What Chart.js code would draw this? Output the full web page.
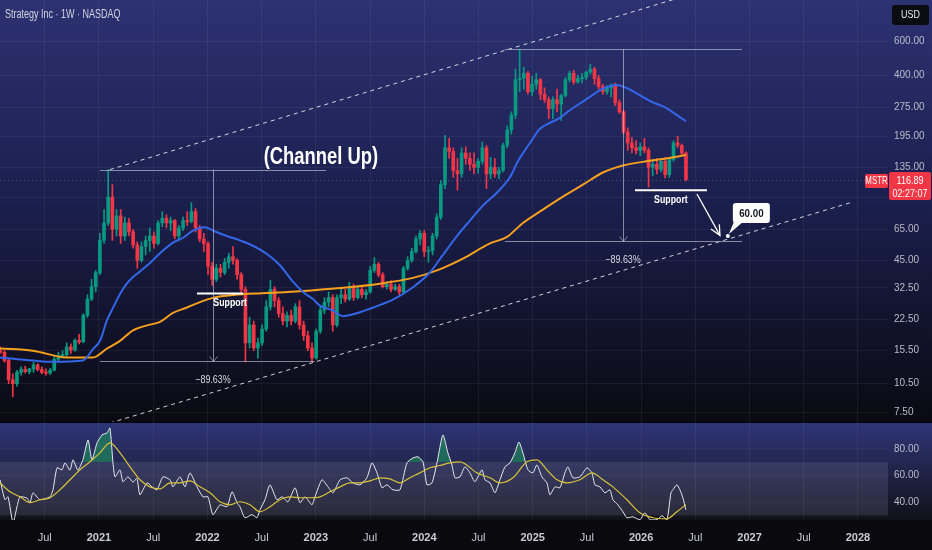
<!DOCTYPE html>
<html><head><meta charset="utf-8">
<script src="https://cdn.jsdelivr.net/npm/chart.js@4.4.1/dist/chart.umd.min.js"></script>
<style>
html,body{margin:0;padding:0;background:#0a0a0e;overflow:hidden;}
canvas{display:block;}
</style></head><body>
<canvas id="c" width="932" height="550"></canvas>
<script>
// ---------------- DATA ----------------
const chartTitle = 'Strategy Inc · 1W · NASDAQ';
const symbol = 'MSTR';
const currency = 'USD';
const lastPrice = 116.89;
const countdown = '02:27:07';
const firstCandleDate = '2020-02-03';
const candleStepDays = 14;

const opens = [15.5,15.2,13.8,11.0,10.5,12.0,12.4,12.1,12.5,13.1,
12.4,12.0,11.9,12.3,14.0,14.6,14.8,16.2,15.6,17.5,
17.2,23.5,28.5,33.0,38.9,57.0,70.0,95.0,65.0,76.0,
60,70,63,54,45,53,57,60,55,70,
74,70,72,60,66,72,71,80,66,58,
55,42,36,41,39,44,47,45,38,32,
17,21,16,17,20,26,32,28,24,22,
23.5,22,26,21,18.5,16,14.2,19.5,25,27.5,
29,21,29,30,28.5,33,29,32,30,31,
40,43,38,33,34,32,33,31,41,45,
50,58,62,50,50.5,60,75,110,170,163,
130,125,160,150,140,135,145,170,125,135,
125,130,175,210,250,380,387,410,330,360,
380,320,300,270,300,285,315,380,410,370,
385,390,415,430,385,350,330,345,355,290,
260,205,180,170,165,172,165,135,140,132,
145,124,148,180,175,160];
const highs = [16.2,15.5,14.0,11.8,12.3,12.8,12.9,12.6,13.5,13.3,
12.8,12.5,12.6,14.5,15.2,15.5,17.0,16.8,17.8,18.8,
24.0,30.0,36.0,40.0,62.0,82.0,131.5,110,82,82,
75,74,65,56,56,60,66,63,72,80,
77,75,73,68,75,80,89,83,68,62,
56,44,43,43,46,49,53,46,39,33,
23,22,18,21,28,35.5,33,29,26,24.5,
25,27,28,22,19.5,17,20,26,29,31,
30,30,32,32,34.7,34,33,33,32,42,
46.6,44,39,35,35.5,34,34,42,47,52,
60,64,64,53,62,78,115,197,190,170,
150,170,172,160,160,150,182,175,152,150,
135,180,220,260,430,543,440,420,395,410,
385,345,310,310,340,320,390,420,425,400,
410,420,455,440,400,360,355,362,365,300,
265,215,192,185,180,190,170,148,150,150,
152,150,185,195,178,162];
const lows = [15.0,13.5,10.5,9.0,10.2,11.6,11.9,11.8,12.0,12.2,
11.8,11.6,11.7,12.2,13.6,14.2,14.5,15.0,15.4,16.8,
17.0,23.0,28.0,31.0,38.0,55.0,68.0,57.0,60.0,55.0,
57,60,52,41,44,48,50,52,54,67,
66,64,58,57,64,68,70,63,56,50,
38,33.5,35,37,38,41,43,36,30,13.6,
16,15.5,14.2,16.5,19.5,25,26,23,21,20.5,
21,21.5,20,17.5,15.5,13.6,14,19,24,26,
19.5,20.5,27,27.5,28,28,28.5,29,28.5,30.5,
39,37,32.5,32,31,31.5,30,30.5,40,44,
49,54,47,44,48,58,73,105,150,120,
103,120,140,130,125,126,140,105,118,120,
118,128,170,200,240,330,340,320,315,340,
300,290,240,240,260,235,310,370,360,365,
365,380,405,360,340,320,320,310,280,255,
200,165,160,158,155,160,107,122,125,128,
119,120,145,170,155,115];
const closes = [15.2,13.8,11.0,10.5,12.0,12.4,12.1,12.5,13.1,12.4,
12.0,11.9,12.3,14.0,14.6,14.8,16.2,15.6,17.5,17.2,
23.5,28.5,33.0,38.9,57.0,70.0,95.0,65.0,76.0,60.0,
70,63,54,45,53,57,60,55,70,74,
70,72,60,66,72,71,80,66,58,55,
42,36,41,39,44,47,45,38,32,17,
21,16,17,20,26,32,28,24,22,23.5,
22,26,21,18.5,16,14.2,19.5,25,27.5,29,
21,29,30,28.5,33,29,32,30,31,40,
43,38,33,34,32,33,31,41,45,50,
58,62,50,50.5,60,75,110,170,163,130,
125,160,150,140,135,145,170,125,135,125,
130,175,210,250,380,387,410,330,360,380,
320,300,270,300,285,315,380,410,370,385,
390,415,430,385,350,330,345,355,290,260,
205,180,170,165,172,165,135,140,132,145,
124,148,180,175,160,116.89];

// 50-week MA (blue) (decimal year / price)
const ma50Years = [2020.087,2020.391,2020.576,2020.852,2020.945,2021.009,2021.074,2021.129,2021.194,2021.258,2021.314,2021.378,2021.470,2021.563,2021.682,2021.775,2021.867,2021.978,2022.051,2022.180,2022.300,2022.420,2022.549,2022.669,2022.789,2022.881,2022.973,2023.038,2023.158,2023.250,2023.342,2023.407,2023.545,2023.711,2023.896,2024.052,2024.172,2024.301,2024.421,2024.541,2024.670,2024.790,2024.864,2024.975,2025.067,2025.159,2025.251,2025.343,2025.436,2025.528,2025.620,2025.712,2025.777,2025.869,2025.989,2026.109,2026.238,2026.330,2026.413];
const ma50Values = [14.3,13.8,13.6,13.8,15.8,17.4,22.2,25.7,30.3,34.3,37,39.5,43.6,49,55.5,58.8,64,66.5,64,60,57,53.5,48.5,42.5,35,31,28.5,26.4,24.9,23.3,23.8,24.4,26,28.3,32.8,39,48,60,72,86,100,120,145,180,213,228,242,265,287,310,336,352,357,344,316,291,271,250,233];
// 200-week MA (orange)
const ma200Years = [2020.087,2020.391,2020.705,2020.945,2021.074,2021.194,2021.314,2021.443,2021.563,2021.682,2021.812,2021.931,2022.051,2022.236,2022.549,2022.854,2023.223,2023.591,2023.896,2024.117,2024.357,2024.606,2024.763,2024.910,2025.094,2025.279,2025.463,2025.648,2025.832,2026.016,2026.201,2026.413];
const ma200Values = [15.9,15.5,14.3,14.3,15.9,17.4,19.7,20.9,21.8,24.2,25.8,27.5,28.9,29.9,30.6,31.3,32.5,34.2,36.6,40,46,55,59.4,70,82,95.6,110,127,138,144,149,156];

// RSI (white) and its MA (yellow)
const rsiYears = [2020.087,2020.133,2020.161,2020.207,2020.244,2020.271,2020.336,2020.364,2020.391,2020.456,2020.548,2020.576,2020.613,2020.659,2020.686,2020.733,2020.760,2020.806,2020.852,2020.899,2020.935,2020.982,2021.028,2021.074,2021.101,2021.129,2021.148,2021.194,2021.221,2021.267,2021.314,2021.350,2021.378,2021.443,2021.489,2021.535,2021.590,2021.655,2021.682,2021.747,2021.793,2021.839,2021.904,2021.959,2022.005,2022.051,2022.116,2022.180,2022.227,2022.273,2022.300,2022.346,2022.411,2022.457,2022.485,2022.531,2022.577,2022.641,2022.688,2022.743,2022.808,2022.854,2022.900,2022.964,2022.992,2023.057,2023.112,2023.158,2023.223,2023.287,2023.342,2023.407,2023.471,2023.518,2023.564,2023.610,2023.656,2023.711,2023.776,2023.840,2023.896,2023.942,2023.988,2024.025,2024.071,2024.117,2024.172,2024.218,2024.255,2024.283,2024.329,2024.375,2024.421,2024.467,2024.532,2024.560,2024.606,2024.652,2024.698,2024.744,2024.790,2024.836,2024.873,2024.910,2024.956,2025.002,2025.039,2025.085,2025.131,2025.159,2025.205,2025.251,2025.297,2025.325,2025.371,2025.436,2025.500,2025.546,2025.574,2025.620,2025.666,2025.712,2025.740,2025.786,2025.832,2025.869,2025.924,2025.989,2026.035,2026.081,2026.146,2026.192,2026.238,2026.275,2026.293,2026.330,2026.358,2026.385,2026.413];
const rsiValues = [56.8,41.8,44,24.6,36.6,44,43,39.6,47,41.8,44,49.3,65.8,64.3,69.5,64,71.8,64,72,86.7,71.8,84.5,90.5,92,95.7,69.5,59,64.3,55.3,59,55,58,45.5,54.5,51.5,49.3,59,56.8,51.5,59,51.5,62,51.5,44,44,30.6,38,36.6,47.8,39.6,36.6,28.3,30.6,28.3,34.3,41.8,53,41.8,44,40.3,50.8,39.6,44,38,44,56.8,51.5,47,56.8,58.3,54.5,53,58.3,69.5,62,50.8,53,49.3,49.3,69.5,73.2,74,70.3,53,54.5,69.5,90.5,77,68,58.3,59,66.5,62,55.3,64.3,56.8,54.5,47,56.8,66.5,69.5,77,85.2,77,64.3,62,68,59,54.5,45.5,51.5,50.8,62,66.5,58.3,59,65.8,62,53,51.5,47,49.3,41.8,38,32.8,28.3,29,26.8,32,26.8,26.8,29.8,26.8,47,49.3,53,49.3,43.3,34.3];
const rsiMaYears = [2020.087,2020.179,2020.271,2020.364,2020.456,2020.548,2020.640,2020.733,2020.825,2020.917,2021.009,2021.101,2021.194,2021.286,2021.378,2021.470,2021.563,2021.655,2021.747,2021.839,2021.931,2022.024,2022.116,2022.208,2022.300,2022.392,2022.485,2022.577,2022.669,2022.761,2022.854,2022.946,2023.038,2023.130,2023.223,2023.315,2023.407,2023.499,2023.591,2023.684,2023.776,2023.868,2023.960,2024.052,2024.144,2024.236,2024.329,2024.486,2024.606,2024.698,2024.818,2024.947,2025.039,2025.131,2025.224,2025.316,2025.436,2025.546,2025.648,2025.740,2025.869,2025.989,2026.109,2026.238,2026.330,2026.413];
const rsiMaValues = [54.5,47.8,44,39.6,41.8,43.3,49.3,56.8,64.3,70.3,77,84.5,77,66.5,56.8,51.5,50,54.5,54.5,56,51.5,47,40.3,38,40.3,38,32.8,36.6,41.8,44,43.3,43.3,44,47.8,51.5,54.5,54.5,56,58.3,57.5,54.5,58.3,62,65.8,67.5,69.5,70.3,62,58.3,54.5,58.3,70.3,71.8,64.3,56.8,54.5,56.8,62,56.8,51.5,41.8,32,28.3,27.5,32.8,38];

const priceTicks = [600, 400, 275, 195, 135, 95, 65, 45, 32.5, 22.5, 15.5, 10.5, 7.5];
const rsiTicks = [80, 60, 40];
const rsiBand = [30, 70];
const timeTickYears = [2020.5,2021,2021.5,2022,2022.5,2023,2023.5,2024,2024.5,2025,2025.5,2026,2026.5,2027,2027.5,2028];
const timeTickLabels = ['Jul','2021','Jul','2022','Jul','2023','Jul','2024','Jul','2025','Jul','2026','Jul','2027','Jul','2028'];

// drawing annotations (data coordinates: decimal year, price)
const channelUpper = [[2021.101,131.5],[2026.60,1100]];
const channelLower = [[2021.10,6.6],[2027.954,89.7]];
const measureLeft = {from:2021.009, to:2023.094, lowTo:2022.99, mid:2022.051, high:131.5, low:13.64, label:'−89.63%'};
const measureRight = {from:2024.744, to:2026.93, lowTo:2026.93, mid:2025.833, high:543, low:56.3, label:'−89.63%'};
const supportLeft = {from:2021.904, to:2022.328, price:30.4, textAt:2022.21, label:'Support'};
const supportRight = {from:2025.943, to:2026.607, price:103, textAt:2026.275, label:'Support'};
const targetArrow = {from:[2026.515,98.6], to:[2026.727,60.5]};
const target = {year:2026.80, price:60, label:'60.00'};
const channelText = {year:2023.047, price:150.8, label:'(Channel Up)'};

// ---------------- CHART ----------------
const FONT = '"Liberation Sans", Arial, sans-serif';
const UP = '#089981', DOWN = '#f23645';
function toYear(ms){const d=new Date(ms);const y=d.getUTCFullYear();const s=Date.UTC(y,0,1),e=Date.UTC(y+1,0,1);return y+(ms-s)/(e-s);}
const t0 = Date.parse(firstCandleDate+'T00:00:00Z');
const candleYears = closes.map((_,i)=>toYear(t0+i*candleStepDays*86400000));
const candleColors = closes.map((c,i)=> c>=opens[i]?UP:DOWN);
const pts = (xs,ys)=>xs.map((x,i)=>({x:x,y:ys[i]}));

const PRICE_MIN = 6.677, PRICE_MAX = 973.6;

function narrowText(ctx,text,x,y,sx,align){
  ctx.save();ctx.translate(x,y);ctx.scale(sx,1);ctx.textAlign=align||'center';ctx.textBaseline='middle';ctx.fillText(text,0,0);ctx.restore();
}

const paneClip = {
  id:'paneClip',
  beforeDatasetDraw(chart,args){const ys=args.meta.yScale,ca=chart.chartArea,ctx=chart.ctx;ctx.save();ctx.beginPath();ctx.rect(ca.left,ys.top,ca.right-ca.left,ys.bottom-ys.top);ctx.clip();},
  afterDatasetDraw(chart){chart.ctx.restore();}
};

const background = {
  id:'background',
  beforeDraw(chart){
    const ctx=chart.ctx,W=chart.width,H=chart.height,y=chart.scales.y,r=chart.scales.rsi,ca=chart.chartArea;
    ctx.save();
    ctx.fillStyle='#0a0a0e';ctx.fillRect(0,0,W,H);
    let g=ctx.createLinearGradient(0,y.top,0,y.bottom);
    g.addColorStop(0,'#2c3272');g.addColorStop(0.45,'#1c2050');g.addColorStop(1,'#0a0a12');
    ctx.fillStyle=g;ctx.fillRect(0,y.top,W,y.bottom-y.top);
    g=ctx.createLinearGradient(0,r.top,0,r.bottom);
    g.addColorStop(0,'#2f3678');g.addColorStop(1,'#111119');
    ctx.fillStyle=g;ctx.fillRect(0,r.top,W,r.bottom-r.top);
    const b1=r.getPixelForValue(rsiBand[1]),b2=r.getPixelForValue(rsiBand[0]);
    ctx.fillStyle='rgba(160,160,195,0.17)';ctx.fillRect(ca.left,b1,ca.right-ca.left,b2-b1);
    ctx.fillStyle='#06060a';ctx.fillRect(0,y.bottom-0.5,W,1.5);
    ctx.restore();
  }
};

function arrowHead(ctx,x1,y1,x2,y2,len,ang){
  const a=Math.atan2(y2-y1,x2-x1);
  ctx.beginPath();
  ctx.moveTo(x2-len*Math.cos(a-ang),y2-len*Math.sin(a-ang));
  ctx.lineTo(x2,y2);
  ctx.lineTo(x2-len*Math.cos(a+ang),y2-len*Math.sin(a+ang));
  ctx.stroke();
}

const annotations = {
  id:'annotations',
  afterDatasetsDraw(chart){
    const ctx=chart.ctx,xs=chart.scales.x,ys=chart.scales.y,ca=chart.chartArea;
    const X=v=>xs.getPixelForValue(v),Y=v=>ys.getPixelForValue(v);
    ctx.save();
    ctx.beginPath();ctx.rect(ca.left,ys.top,ca.right-ca.left,ys.bottom-ys.top);ctx.clip();
    // current price dotted line
    ctx.strokeStyle='rgba(190,195,210,0.35)';ctx.lineWidth=1;ctx.setLineDash([1,3]);
    ctx.beginPath();ctx.moveTo(ca.left,Math.round(Y(lastPrice))+0.5);ctx.lineTo(ca.right,Math.round(Y(lastPrice))+0.5);ctx.stroke();
    ctx.setLineDash([]);
    // measurement boxes
    [measureLeft,measureRight].forEach(m=>{
      ctx.strokeStyle='rgba(205,210,225,0.6)';ctx.lineWidth=1;
      ctx.beginPath();
      ctx.moveTo(X(m.from),Math.round(Y(m.high))+0.5);ctx.lineTo(X(m.to),Math.round(Y(m.high))+0.5);
      ctx.moveTo(X(m.from),Math.round(Y(m.low))+0.5);ctx.lineTo(X(m.lowTo),Math.round(Y(m.low))+0.5);
      ctx.moveTo(Math.round(X(m.mid))+0.5,Y(m.high));ctx.lineTo(Math.round(X(m.mid))+0.5,Y(m.low));
      ctx.stroke();
      const mx=Math.round(X(m.mid))+0.5,my=Y(m.low);
      ctx.beginPath();ctx.moveTo(mx-4,my-5);ctx.lineTo(mx,my);ctx.lineTo(mx+4,my-5);ctx.stroke();
      ctx.fillStyle='#d6d9e2';ctx.font='10.5px '+FONT;
      narrowText(ctx,m.label,X(m.mid),Y(m.low)+19,0.85);
    });
    // support lines
    [supportLeft,supportRight].forEach(s=>{
      ctx.strokeStyle='#ffffff';ctx.lineWidth=2;
      ctx.beginPath();ctx.moveTo(X(s.from),Y(s.price));ctx.lineTo(X(s.to),Y(s.price));ctx.stroke();
      ctx.fillStyle='#ffffff';ctx.font='bold 11px '+FONT;
      narrowText(ctx,s.label,X(s.textAt),Y(s.price)+9.5,0.8);
    });
    // arrow to target
    const ax1=X(targetArrow.from[0]),ay1=Y(targetArrow.from[1]),ax2=X(targetArrow.to[0]),ay2=Y(targetArrow.to[1]);
    ctx.strokeStyle='#ffffff';ctx.lineWidth=1.3;
    ctx.beginPath();ctx.moveTo(ax1,ay1);ctx.lineTo(ax2,ay2);ctx.stroke();
    arrowHead(ctx,ax1,ay1,ax2,ay2,11,0.45);
    // channel text
    ctx.fillStyle='#ffffff';ctx.font='bold 23px '+FONT;
    narrowText(ctx,channelText.label,X(channelText.year),Y(channelText.price),0.8);
    // target callout
    const px=X(target.year),py=Y(target.price);
    ctx.fillStyle='#ffffff';
    ctx.beginPath();ctx.arc(px,py,2,0,Math.PI*2);ctx.fill();
    ctx.beginPath();ctx.moveTo(px+1,py-2);ctx.lineTo(px+6,py-14);ctx.lineTo(px+15,py-14);ctx.closePath();ctx.fill();
    const bx=px+5,by=py-33,bw=37,bh=20;
    ctx.beginPath();ctx.roundRect(bx,by,bw,bh,3);ctx.fill();
    ctx.fillStyle='#131722';ctx.font='bold 11.5px '+FONT;
    narrowText(ctx,target.label,bx+bw/2,by+bh/2+0.5,0.85);
    ctx.restore();
  },
  afterDraw(chart){
    const ctx=chart.ctx,ys=chart.scales.y,ca=chart.chartArea;
    const py=Math.round(ys.getPixelForValue(lastPrice));
    ctx.save();
    // title
    ctx.fillStyle='#d2d5e0';ctx.font='12.5px '+FONT;
    narrowText(ctx,chartTitle,5,15,0.72,'left');
    // USD box
    ctx.fillStyle='#0b0c12';ctx.beginPath();ctx.roundRect(892,5,37,20,3);ctx.fill();
    ctx.fillStyle='#e6e8ee';ctx.font='10.5px '+FONT;
    narrowText(ctx,currency,910.5,15.5,0.85);
    // symbol label
    ctx.fillStyle=DOWN;ctx.beginPath();ctx.roundRect(ca.right-23,py-6,23,14,2);ctx.fill();
    ctx.fillStyle='#ffffff';ctx.font='10.5px '+FONT;
    narrowText(ctx,symbol,ca.right-11.5,py+1,0.75);
    // price box
    ctx.fillStyle=DOWN;ctx.beginPath();ctx.roundRect(ca.right+1,py-8,42,28,2);ctx.fill();
    ctx.fillStyle='#ffffff';ctx.font='11px '+FONT;
    narrowText(ctx,lastPrice.toFixed(2),ca.right+22,py+1,0.82);
    narrowText(ctx,countdown,ca.right+22,py+13.5,0.82);
    ctx.restore();
  }
};

const noPad = s=>{s.paddingTop=0;s.paddingBottom=0;s.paddingLeft=0;s.paddingRight=0;};
const gridColor='rgba(255,255,255,0.055)';
new Chart(document.getElementById('c'),{
  type:'bar',
  data:{datasets:[
    {type:'line',label:'MA50',data:pts(ma50Years,ma50Values),borderColor:'#3466e8',borderWidth:2,pointRadius:0,tension:0.4,cubicInterpolationMode:'monotone',yAxisID:'y',xAxisID:'x',order:0},
    {type:'line',label:'MA200',data:pts(ma200Years,ma200Values),borderColor:'#f5a01e',borderWidth:2,pointRadius:0,tension:0.4,cubicInterpolationMode:'monotone',yAxisID:'y',xAxisID:'x',order:0},
    {type:'line',label:'ChannelUpper',data:channelUpper.map(p=>({x:p[0],y:p[1]})),borderColor:'rgba(255,255,255,0.8)',borderWidth:1,borderDash:[4,4],pointRadius:0,yAxisID:'y',xAxisID:'x',order:0},
    {type:'line',label:'ChannelLower',data:channelLower.map(p=>({x:p[0],y:p[1]})),borderColor:'rgba(255,255,255,0.8)',borderWidth:1,borderDash:[4,4],pointRadius:0,yAxisID:'y',xAxisID:'x',order:0},
    {type:'bar',label:'wick',data:candleYears.map((t,i)=>({x:t,y:[lows[i],highs[i]]})),backgroundColor:candleColors,barThickness:1,grouped:false,borderWidth:0,yAxisID:'y',xAxisID:'x',order:3},
    {type:'bar',label:'body',data:candleYears.map((t,i)=>({x:t,y:[Math.min(opens[i],closes[i]),Math.max(opens[i],closes[i])]})),backgroundColor:candleColors,barThickness:3,minBarLength:1,grouped:false,borderWidth:0,yAxisID:'y',xAxisID:'x',order:2},
    {type:'line',label:'RSI',data:pts(rsiYears,rsiValues),borderColor:'#e9e9f2',borderWidth:1,pointRadius:0,tension:0.2,yAxisID:'rsi',xAxisID:'x',order:1,
      fill:{target:{value:70},above:'rgba(30,150,95,0.6)',below:'rgba(0,0,0,0)'}},
    {type:'line',label:'RSI MA',data:pts(rsiMaYears,rsiMaValues),borderColor:'#d8c23a',borderWidth:1.2,pointRadius:0,tension:0.4,cubicInterpolationMode:'monotone',yAxisID:'rsi',xAxisID:'x',order:0}
  ]},
  options:{
    responsive:false,animation:false,
    layout:{padding:0},
    plugins:{legend:{display:false},tooltip:{enabled:false}},
    scales:{
      x:{type:'linear',position:'bottom',min:2020.087,max:2028.277,offset:false,
        grid:{color:gridColor,drawTicks:false,offset:false},border:{display:false},
        afterBuildTicks:s=>{s.ticks=timeTickYears.map(v=>({value:v}));},
        afterFit:s=>{s.height=30;noPad(s);},
        ticks:{autoSkip:false,maxRotation:0,padding:11,color:'#c8cbd4',
          font:c=>({family:FONT,size:11,weight:(c.tick&&Number.isInteger(c.tick.value))?'bold':'normal'}),
          callback:(v)=>{const i=timeTickYears.indexOf(v);return i>=0?timeTickLabels[i]:'';}}},
      y:{type:'logarithmic',position:'right',stack:'panes',stackWeight:422,min:PRICE_MIN,max:PRICE_MAX,
        grid:{color:gridColor,drawTicks:false},border:{display:false},
        afterBuildTicks:s=>{s.ticks=priceTicks.map(v=>({value:v}));},
        afterFit:s=>{s.width=44;noPad(s);},
        ticks:{autoSkip:false,padding:6,color:'#b9bcc8',font:{family:FONT,size:10},callback:v=>Number(v).toFixed(2)}},
      rsi:{type:'linear',position:'right',stack:'panes',stackWeight:98,min:26.6,max:100.2,
        grid:{color:'rgba(255,255,255,0.035)',drawTicks:false},border:{display:false},
        afterBuildTicks:s=>{s.ticks=rsiTicks.map(v=>({value:v}));},
        afterFit:s=>{s.width=44;noPad(s);},
        ticks:{autoSkip:false,padding:6,color:'#b9bcc8',font:{family:FONT,size:10},callback:v=>Number(v).toFixed(2)}}
    }
  },
  plugins:[background,paneClip,annotations]
});
</script>
</body></html>
